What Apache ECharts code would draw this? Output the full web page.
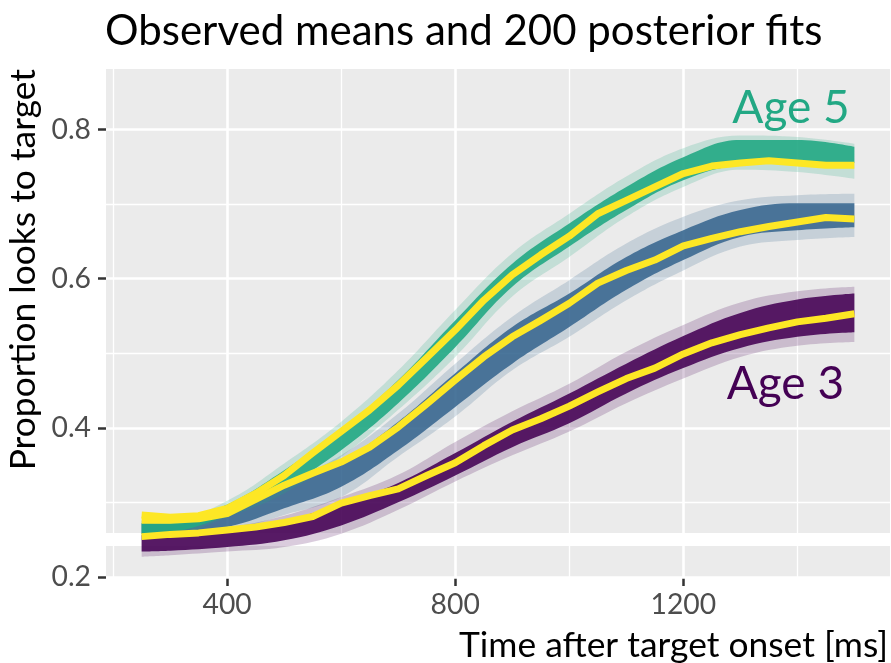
<!DOCTYPE html>
<html>
<head>
<meta charset="utf-8">
<title>Observed means and 200 posterior fits</title>
<script src="https://cdn.jsdelivr.net/npm/echarts@6/dist/echarts.min.js"></script>
<style>
  html, body { margin: 0; padding: 0; background: #ffffff; }
  #chart { width: 891px; height: 663px; }
</style>
</head>
<body>
<div id="chart"></div>
<script>
// ---- axis ticks and reference lines ----
const xMajor = [400, 800, 1200];
const xMinor = [200, 600, 1000, 1400];
const yMajor = [0.2, 0.4, 0.6, 0.8];
const yMinor = [0.3, 0.5, 0.7];
const chanceLevel = 0.25;

// ---- observed means (every 50 ms) ----
const obsTime = [250, 300, 350, 400, 450, 500, 550, 600, 650, 700, 750, 800, 850,
                 900, 950, 1000, 1050, 1100, 1150, 1200, 1250, 1300, 1350, 1400, 1450, 1500];
const obsAge3 = [0.254, 0.257, 0.259, 0.263, 0.267, 0.273, 0.281, 0.299, 0.309, 0.318, 0.336, 0.353, 0.376,
                 0.397, 0.412, 0.429, 0.448, 0.466, 0.480, 0.499, 0.514, 0.525, 0.534, 0.542, 0.547, 0.553];
const obsAge4 = [0.276, 0.276, 0.278, 0.285, 0.304, 0.323, 0.339, 0.354, 0.374, 0.401, 0.432, 0.464, 0.495,
                 0.522, 0.544, 0.567, 0.594, 0.611, 0.625, 0.644, 0.654, 0.663, 0.670, 0.676, 0.682, 0.680];
const obsAge5 = [0.283, 0.280, 0.282, 0.292, 0.312, 0.336, 0.366, 0.395, 0.424, 0.457, 0.494, 0.531, 0.571,
                 0.605, 0.632, 0.657, 0.687, 0.705, 0.723, 0.741, 0.751, 0.755, 0.758, 0.755, 0.752, 0.752];

// ---- spread of the 200 posterior fits: dense core and faint outer range ----
const fitTime = [250, 300, 400, 500, 600, 700, 800, 900, 1000, 1100, 1200, 1300, 1400, 1500];

const coreLoAge3 = [0.234, 0.235, 0.240, 0.249, 0.269, 0.300, 0.336, 0.374, 0.406, 0.446, 0.480, 0.507, 0.522, 0.528];
const coreHiAge3 = [0.256, 0.255, 0.261, 0.275, 0.298, 0.326, 0.366, 0.408, 0.446, 0.486, 0.523, 0.554, 0.572, 0.580];
const hazeLoAge3 = [0.227, 0.229, 0.234, 0.240, 0.258, 0.290, 0.328, 0.363, 0.395, 0.433, 0.466, 0.495, 0.510, 0.515];
const hazeHiAge3 = [0.259, 0.259, 0.266, 0.282, 0.307, 0.337, 0.381, 0.422, 0.459, 0.502, 0.538, 0.568, 0.583, 0.589];

const coreLoAge4 = [0.258, 0.259, 0.267, 0.292, 0.321, 0.370, 0.428, 0.486, 0.535, 0.585, 0.625, 0.656, 0.665, 0.669];
const coreHiAge4 = [0.272, 0.271, 0.287, 0.319, 0.354, 0.408, 0.473, 0.535, 0.580, 0.629, 0.665, 0.692, 0.701, 0.701];
const hazeLoAge4 = [0.254, 0.255, 0.262, 0.283, 0.307, 0.361, 0.415, 0.477, 0.522, 0.571, 0.611, 0.643, 0.652, 0.656];
const hazeHiAge4 = [0.275, 0.275, 0.292, 0.325, 0.363, 0.419, 0.486, 0.549, 0.598, 0.647, 0.683, 0.705, 0.712, 0.714];

const coreLoAge5 = [0.258, 0.260, 0.283, 0.320, 0.370, 0.433, 0.508, 0.589, 0.643, 0.692, 0.732, 0.752, 0.755, 0.755];
const coreHiAge5 = [0.272, 0.272, 0.297, 0.343, 0.397, 0.464, 0.544, 0.620, 0.674, 0.723, 0.763, 0.786, 0.786, 0.777];
const hazeLoAge5 = [0.255, 0.256, 0.280, 0.312, 0.361, 0.424, 0.495, 0.576, 0.629, 0.683, 0.723, 0.746, 0.743, 0.734];
const hazeHiAge5 = [0.276, 0.276, 0.302, 0.352, 0.408, 0.477, 0.558, 0.634, 0.687, 0.737, 0.775, 0.792, 0.790, 0.781];

// ---- group annotations ----
const groupLabels = ['Age 3', 'Age 5'];
const groupLabelTime = [1379, 1389];
const groupLabelProp = [0.4591, 0.8287];

// ---- colours ----
const colAge3 = '#440154';
const colAge4 = '#33638D';
const colAge5 = '#22A884';
const colObserved = '#FDE725';

const FONT = 'Lato, "Open Sans", sans-serif';

// A filled band between two curves, built as a stacked pair of line series
// (values in the first column so stacking happens on the proportion axis).
function band(lo, hi, color, opacity, id) {
  const common = {
    type: 'line', stack: id, smooth: 0.4, symbol: 'none', silent: true,
    encode: { x: 1, y: 0 }, lineStyle: { width: 0, opacity: 0 }, z: 2
  };
  return [
    Object.assign({}, common, { data: fitTime.map((t, i) => [lo[i], t]) }),
    Object.assign({}, common, {
      data: fitTime.map((t, i) => [hi[i] - lo[i], t]),
      areaStyle: { color: color, opacity: opacity }
    })
  ];
}

function observed(values) {
  return {
    type: 'line', data: obsTime.map((t, i) => [t, values[i]]), symbol: 'none', silent: true, z: 3,
    lineStyle: { color: colObserved, width: 7, join: 'round', cap: 'butt' }
  };
}

const gridLines = [].concat(
  xMinor.map(v => ({ xAxis: v, lineStyle: { color: '#ffffff', width: 1.3, type: 'solid' } })),
  yMinor.map(v => ({ yAxis: v, lineStyle: { color: '#ffffff', width: 1.3, type: 'solid' } })),
  xMajor.map(v => ({ xAxis: v, lineStyle: { color: '#ffffff', width: 2.6, type: 'solid' } })),
  yMajor.map(v => ({ yAxis: v, lineStyle: { color: '#ffffff', width: 2.6, type: 'solid' } })),
  [{ yAxis: chanceLevel, lineStyle: { color: '#ffffff', width: 13, type: 'solid' } }]
);

const chart = echarts.init(document.getElementById('chart'), null, { renderer: 'canvas' });

chart.setOption({
  animation: false,
  backgroundColor: '#ffffff',
  title: {
    text: 'Observed means and 200 posterior fits',
    left: 105, top: 10, padding: 0,
    textStyle: { fontFamily: FONT, fontSize: 42, fontWeight: 'normal', color: '#000000' }
  },
  grid: {
    left: 106, right: 1, top: 69, bottom: 85,
    show: true, backgroundColor: '#EBEBEB', borderWidth: 0,
    containLabel: false, outerBoundsMode: 'none'
  },
  xAxis: {
    type: 'value', min: 187.5, max: 1562.5,
    axisLine: { show: false },
    axisTick: { show: true, customValues: xMajor, length: 8, lineStyle: { color: '#333333', width: 2.5 } },
    axisLabel: { customValues: xMajor, margin: 13, fontFamily: FONT, fontSize: 28.3, color: '#4D4D4D',
                 formatter: v => String(v) },
    splitLine: { show: false }
  },
  yAxis: {
    type: 'value', min: 0.1985, max: 0.8812,
    axisLine: { show: false },
    axisTick: { show: true, customValues: yMajor, length: 8, lineStyle: { color: '#333333', width: 2.5 } },
    axisLabel: {
      customValues: yMajor, margin: 15, fontFamily: FONT, fontSize: 28.3, color: '#4D4D4D',
      padding: [7, 0, 0, 0], formatter: v => v.toFixed(1)
    },
    splitLine: { show: false }
  },
  graphic: [
    {
      type: 'text', x: 23.6, y: 69, rotation: Math.PI / 2, silent: true,
      style: { text: 'Proportion looks to target', fontFamily: FONT, fontSize: 35.4,
               fill: '#000000', align: 'right', verticalAlign: 'middle' }
    },
    {
      type: 'text', x: 888, y: 645.3, silent: true,
      style: { text: 'Time after target onset [ms]', fontFamily: FONT, fontSize: 35.4,
               fill: '#000000', align: 'right', verticalAlign: 'middle' }
    }
  ],
  series: [].concat(
    [{
      type: 'line', data: [], symbol: 'none', silent: true, z: 1,
      markLine: { silent: true, z: 1, symbol: ['none', 'none'], label: { show: false },
                  animation: false, data: gridLines }
    }],
    band(hazeLoAge3, hazeHiAge3, colAge3, 0.2, 'haze3'),
    band(coreLoAge3, coreHiAge3, colAge3, 0.88, 'core3'),
    band(hazeLoAge4, hazeHiAge4, colAge4, 0.2, 'haze4'),
    band(coreLoAge4, coreHiAge4, colAge4, 0.85, 'core4'),
    band(hazeLoAge5, hazeHiAge5, colAge5, 0.2, 'haze5'),
    band(coreLoAge5, coreHiAge5, colAge5, 0.9, 'core5'),
    [observed(obsAge3), observed(obsAge4), observed(obsAge5)],
    groupLabels.map((txt, i) => ({
      type: 'scatter', silent: true, z: 4,
      data: [[groupLabelTime[i], groupLabelProp[i]]],
      symbolSize: 1, itemStyle: { color: 'rgba(0,0,0,0)', opacity: 1 },
      label: { show: true, position: 'inside', formatter: txt, fontFamily: FONT, fontSize: 46,
               color: i === 0 ? colAge3 : colAge5, opacity: 1 }
    }))
  )
});
</script>
</body>
</html>
